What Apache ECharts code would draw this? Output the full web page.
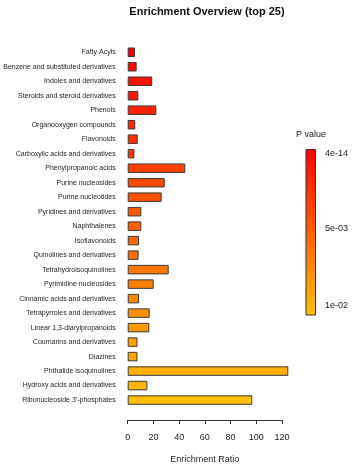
<!DOCTYPE html>
<html>
<head>
<meta charset="utf-8">
<script src="https://cdn.jsdelivr.net/npm/echarts@6/dist/echarts.min.js"></script>
<style>
html,body{margin:0;padding:0;background:#fff;}
#c{width:354px;height:469px;}
</style>
</head>
<body>
<div id="c"></div>
<script>
var categories = [
  "Fatty Acyls",
  "Benzene and substituted derivatives",
  "Indoles and derivatives",
  "Steroids and steroid derivatives",
  "Phenols",
  "Organooxygen compounds",
  "Flavonoids",
  "Carboxylic acids and derivatives",
  "Phenylpropanoic acids",
  "Purine nucleosides",
  "Purine nucleotides",
  "Pyridines and derivatives",
  "Naphthalenes",
  "Isoflavonoids",
  "Quinolines and derivatives",
  "Tetrahydroisoquinolines",
  "Pyrimidine nucleosides",
  "Cinnamic acids and derivatives",
  "Tetrapyrroles and derivatives",
  "Linear 1,3-diarylpropanoids",
  "Coumarins and derivatives",
  "Diazines",
  "Phthalide isoquinolines",
  "Hydroxy acids and derivatives",
  "Ribonucleoside 3'-phosphates"
];
var enrichmentRatio = [5.7, 7.0, 19.1, 8.3, 22.3, 5.9, 7.8, 5.2, 44.8, 28.8, 26.4, 10.6, 10.6, 8.8, 8.5, 31.9, 20.2, 8.8, 17.1, 16.8, 7.6, 7.6, 124.9, 15.3, 96.9];
var xTicks = [0, 20, 40, 60, 80, 100, 120];
var pValueLabels = ["4e-14", "5e-03", "1e-02"];

var FONT = '"Liberation Sans", Arial, sans-serif';
function barColor(i, n) {
  var g = Math.round(191 * i / (n - 1));
  return 'rgb(255,' + g + ',0)';
}

var chart = echarts.init(document.getElementById('c'), null, {renderer: 'canvas'});
var option = {
  backgroundColor: '#fff',
  animation: false,
  grid: {left: 127.7, width: 154.3, top: 45, height: 364.6, containLabel: false},
  xAxis: {
    type: 'value',
    min: 0, max: 120, interval: 20,
    offset: 12.7,
    axisLine: {show: true, lineStyle: {color: '#333', width: 1}},
    axisTick: {show: true, inside: false, length: 4, lineStyle: {color: '#333'}},
    splitLine: {show: false},
    axisLabel: {fontSize: 9, color: '#222', margin: 13, fontFamily: FONT,
      formatter: function (v) { return xTicks.indexOf(v) >= 0 ? String(v) : ''; }},
    name: 'Enrichment Ratio',
    nameLocation: 'middle',
    nameGap: 35,
    nameTextStyle: {fontSize: 9, color: '#222', fontFamily: FONT}
  },
  yAxis: {
    type: 'category',
    data: categories,
    inverse: true,
    axisLine: {show: false},
    axisTick: {show: false},
    axisLabel: {fontSize: 7, color: '#222', margin: 12, fontFamily: FONT, interval: 0}
  },
  series: [{
    type: 'bar',
    clip: false,
    barWidth: 9.5,
    data: enrichmentRatio.map(function (v, i) {
      return {value: v, itemStyle: {color: barColor(i, enrichmentRatio.length), borderColor: '#3a3a3a', borderWidth: 1}};
    })
  }],
  graphic: [
    {type: 'text', x: 207, y: 12, style: {text: 'Enrichment Overview (top 25)', font: 'bold 11px ' + FONT, fill: '#111', align: 'center', verticalAlign: 'middle'}},
    {type: 'text', x: 311, y: 135, style: {text: 'P value', font: '9px ' + FONT, fill: '#222', align: 'center', verticalAlign: 'middle'}},
    {type: 'rect', shape: {x: 306, y: 149.5, width: 9.5, height: 165.5},
      style: {
        fill: new echarts.graphic.LinearGradient(0, 0, 0, 1, [
          {offset: 0, color: '#FF0000'},
          {offset: 0.5, color: '#FF6000'},
          {offset: 1, color: '#FFBF00'}
        ]),
        stroke: '#333', lineWidth: 1
      }},
    {type: 'text', x: 325, y: 153.5, style: {text: pValueLabels[0], font: '9px ' + FONT, fill: '#222', align: 'left', verticalAlign: 'middle'}},
    {type: 'text', x: 325, y: 228.5, style: {text: pValueLabels[1], font: '9px ' + FONT, fill: '#222', align: 'left', verticalAlign: 'middle'}},
    {type: 'text', x: 325, y: 305.5, style: {text: pValueLabels[2], font: '9px ' + FONT, fill: '#222', align: 'left', verticalAlign: 'middle'}}
  ]
};
chart.setOption(option);
</script>
</body>
</html>
